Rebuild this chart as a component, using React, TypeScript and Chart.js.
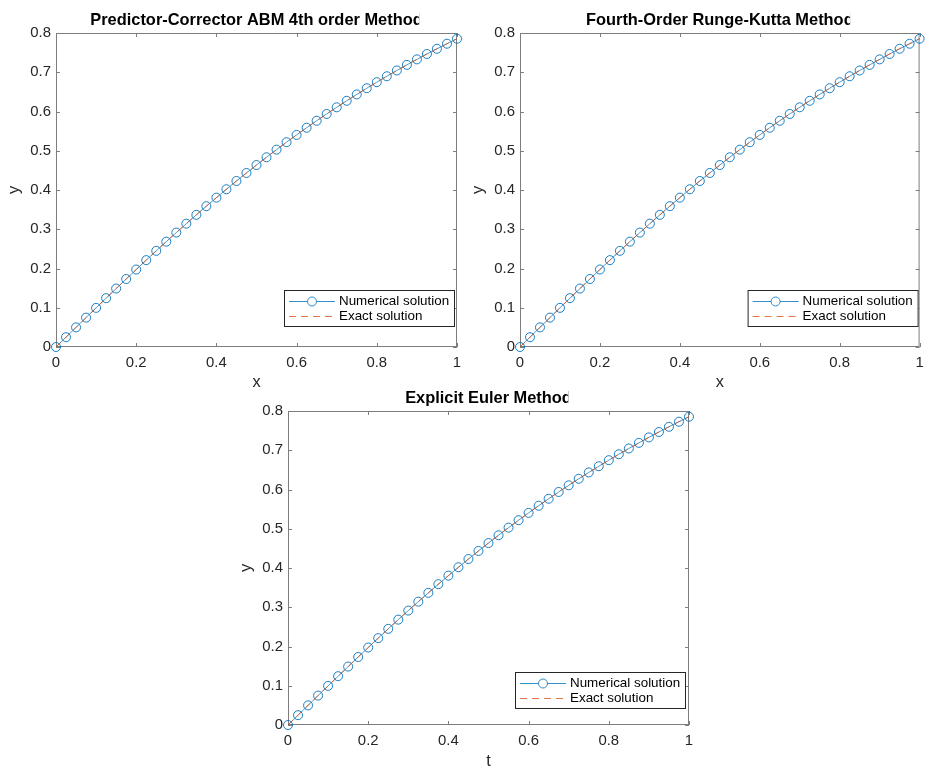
import React, { useEffect, useRef } from "react";
import { Chart, registerables } from "chart.js";

Chart.register(...registerables);

// ---------------- data ----------------
const xValues = [
  0, 0.025, 0.05, 0.075, 0.1, 0.125, 0.15, 0.175, 0.2, 0.225, 0.25, 0.275, 0.3, 0.325,
  0.35, 0.375, 0.4, 0.425, 0.45, 0.475, 0.5, 0.525, 0.55, 0.575, 0.6, 0.625, 0.65,
  0.675, 0.7, 0.725, 0.75, 0.775, 0.8, 0.825, 0.85, 0.875, 0.9, 0.925, 0.95, 0.975, 1,
];

const numericalY = [
  0, 0.025, 0.05, 0.0749, 0.0997, 0.1244, 0.1489, 0.1732, 0.1974, 0.2213, 0.245, 0.2684,
  0.2915, 0.3142, 0.3367, 0.3588, 0.3805, 0.4019, 0.4229, 0.4434, 0.4636, 0.4834, 0.5028,
  0.5218, 0.5404, 0.5586, 0.5764, 0.5937, 0.6107, 0.6273, 0.6435, 0.6593, 0.6747, 0.6898,
  0.7045, 0.7188, 0.7328, 0.7465, 0.7598, 0.7727, 0.7854,
];

const exactY = [
  0, 0.025, 0.05, 0.0749, 0.0997, 0.1244, 0.1489, 0.1732, 0.1974, 0.2213, 0.245, 0.2684,
  0.2915, 0.3142, 0.3367, 0.3588, 0.3805, 0.4019, 0.4229, 0.4434, 0.4636, 0.4834, 0.5028,
  0.5218, 0.5404, 0.5586, 0.5764, 0.5937, 0.6107, 0.6273, 0.6435, 0.6593, 0.6747, 0.6898,
  0.7045, 0.7188, 0.7328, 0.7465, 0.7598, 0.7727, 0.7854,
];

const xTicks = [0, 0.2, 0.4, 0.6, 0.8, 1];
const xTickLabels = ["0", "0.2", "0.4", "0.6", "0.8", "1"];
const yTicks = [0, 0.1, 0.2, 0.3, 0.4, 0.5, 0.6, 0.7, 0.8];
const yTickLabels = ["0", "0.1", "0.2", "0.3", "0.4", "0.5", "0.6", "0.7", "0.8"];

const titles = [
  "Predictor-Corrector ABM 4th order Method",
  "Fourth-Order Runge-Kutta Method",
  "Explicit Euler Method",
];
const xLabels = ["x", "x", "t"];
const yLabels = ["y", "y", "y"];
const legendLabels = ["Numerical solution", "Exact solution"];

// ---------------- layout / style ----------------
const W = 925;
const H = 767;
const FONT = "'Liberation Sans', Arial, Helvetica, sans-serif";
const BLUE = "#0072BD";
const ORANGE = "#D95319";
const AXIS = "#7d7d7d";
const TEXT = "#262626";

type Panel = {
  left: number;
  top: number;
  right: number;
  bottom: number;
  xAxisH: number;
  xTitlePad: number;
  legendRight: number;
  legendBottom: number;
};

const panels: Panel[] = [
  { left: 56, top: 33, right: 457, bottom: 347, xAxisH: 45, xTitlePad: 0, legendRight: 2, legendBottom: 20 },
  { left: 520, top: 33, right: 921, bottom: 347, xAxisH: 45, xTitlePad: 0, legendRight: 1, legendBottom: 20 },
  { left: 288, top: 411, right: 689, bottom: 725, xAxisH: 42, xTitlePad: -4, legendRight: 3, legendBottom: 16 },
];

const Y_AXIS_W = 56;

function makePlugin(idx: number) {
  const p = panels[idx];
  return {
    id: "matlabPanel" + idx,
    beforeDatasetsDraw(chart: any) {
      const { ctx, chartArea: a, scales } = chart;
      ctx.save();
      ctx.strokeStyle = AXIS;
      ctx.lineWidth = 1;
      ctx.strokeRect(a.left + 0.5, a.top + 0.5, a.right - a.left - 1, a.bottom - a.top - 1);
      const tl = 4;
      ctx.beginPath();
      xTicks.forEach((v) => {
        const px = Math.round(scales.x.getPixelForValue(v)) + 0.5;
        ctx.moveTo(px, a.bottom);
        ctx.lineTo(px, a.bottom - tl);
        ctx.moveTo(px, a.top);
        ctx.lineTo(px, a.top + tl);
      });
      yTicks.forEach((v) => {
        const py = Math.round(scales.y.getPixelForValue(v)) + 0.5;
        ctx.moveTo(a.left, py);
        ctx.lineTo(a.left + tl, py);
        ctx.moveTo(a.right, py);
        ctx.lineTo(a.right - tl, py);
      });
      ctx.stroke();
      ctx.restore();
    },
    afterDraw(chart: any) {
      const { ctx, chartArea: a } = chart;
      // title (clipped like the reference)
      ctx.save();
      ctx.font = `bold 16.4px ${FONT}`;
      ctx.fillStyle = "#000";
      ctx.textAlign = "center";
      ctx.textBaseline = "middle";
      const cx = (a.left + a.right) / 2;
      const tw = ctx.measureText(titles[idx]).width;
      ctx.beginPath();
      ctx.rect(0, a.top - 40, cx + tw / 2 - 3.5, 40);
      ctx.clip();
      ctx.fillText(titles[idx], cx, a.top - 12.5);
      ctx.restore();

      // legend
      const bw = 171;
      const bh = 37;
      const bx = a.right - p.legendRight - bw;
      const by = a.bottom - p.legendBottom - bh;
      ctx.save();
      ctx.fillStyle = "#fff";
      ctx.fillRect(bx, by, bw, bh);
      ctx.strokeStyle = TEXT;
      ctx.lineWidth = 1;
      ctx.strokeRect(bx + 0.5, by + 0.5, bw - 1, bh - 1);
      const r1 = by + 11.5;
      const r2 = by + 26.5;
      ctx.lineWidth = 0.8;
      // row 1
      ctx.strokeStyle = BLUE;
      ctx.beginPath();
      ctx.moveTo(bx + 5, r1);
      ctx.lineTo(bx + 51, r1);
      ctx.stroke();
      ctx.beginPath();
      ctx.arc(bx + 28, r1, 4.5, 0, Math.PI * 2);
      ctx.fillStyle = "#fff";
      ctx.fill();
      ctx.stroke();
      // row 2
      ctx.strokeStyle = ORANGE;
      ctx.setLineDash([7, 5]);
      ctx.beginPath();
      ctx.moveTo(bx + 5, r2);
      ctx.lineTo(bx + 51, r2);
      ctx.stroke();
      ctx.setLineDash([]);
      ctx.fillStyle = "#000";
      ctx.font = `13.4px ${FONT}`;
      ctx.textAlign = "left";
      ctx.textBaseline = "middle";
      ctx.fillText(legendLabels[0], bx + 55, r1);
      ctx.fillText(legendLabels[1], bx + 55, r2);
      ctx.restore();
    },
  };
}

function PanelChart({ idx }: { idx: number }) {
  const ref = useRef<HTMLCanvasElement | null>(null);
  useEffect(() => {
    if (!ref.current) return;
    const p = panels[idx];
    const chart = new Chart(ref.current, {
      type: "line",
      data: {
        datasets: [
          {
            label: legendLabels[1],
            data: xValues.map((x, i) => ({ x, y: exactY[i] })),
            borderColor: ORANGE,
            borderWidth: 0.8,
            borderDash: [7, 5],
            pointRadius: 0,
            fill: false,
            clip: false as any,
            order: 0,
          },
          {
            label: legendLabels[0],
            data: xValues.map((x, i) => ({ x, y: numericalY[i] })),
            borderColor: BLUE,
            borderWidth: 0.7,
            pointRadius: 4.5,
            pointBorderWidth: 0.9,
            pointBorderColor: BLUE,
            pointBackgroundColor: "rgba(0,0,0,0)",
            pointStyle: "circle",
            fill: false,
            clip: false as any,
            order: 1,
          },
        ],
      },
      options: {
        responsive: false,
        animation: false,
        devicePixelRatio: 1,
        events: [],
        layout: {
          padding: {
            left: p.left - Y_AXIS_W,
            top: p.top,
            right: W - p.right,
            bottom: H - p.bottom - p.xAxisH,
          },
        },
        plugins: {
          legend: { display: false },
          title: { display: false },
          tooltip: { enabled: false },
        },
        scales: {
          x: {
            type: "linear",
            min: 0,
            max: 1,
            grid: { display: false, drawTicks: false, tickLength: 0 },
            border: { display: false },
            afterBuildTicks: (s: any) => {
              s.ticks = xTicks.map((v) => ({ value: v }));
            },
            afterFit: (s: any) => {
              s.height = p.xAxisH;
              s.paddingLeft = 0;
              s.paddingRight = 0;
            },
            ticks: {
              autoSkip: false,
              maxRotation: 0,
              padding: 7,
              color: TEXT,
              font: { family: FONT, size: 14.9 },
              callback: (v: any) => {
                const i = xTicks.findIndex((t) => Math.abs(t - Number(v)) < 1e-9);
                return i >= 0 ? xTickLabels[i] : "";
              },
            },
            title: {
              display: true,
              text: xLabels[idx],
              color: TEXT,
              font: { family: FONT, size: 16.4, lineHeight: 1.2 },
              padding: { top: 0, bottom: p.xTitlePad },
            },
          },
          y: {
            type: "linear",
            min: 0,
            max: 0.8,
            grid: { display: false, drawTicks: false, tickLength: 0 },
            border: { display: false },
            afterBuildTicks: (s: any) => {
              s.ticks = yTicks.map((v) => ({ value: v }));
            },
            afterFit: (s: any) => {
              s.width = Y_AXIS_W;
              s.paddingTop = 0;
              s.paddingBottom = 0;
            },
            ticks: {
              autoSkip: false,
              padding: 5,
              color: TEXT,
              font: { family: FONT, size: 14.9 },
              callback: (v: any) => {
                const i = yTicks.findIndex((t) => Math.abs(t - Number(v)) < 1e-9);
                return i >= 0 ? yTickLabels[i] : "";
              },
            },
            title: {
              display: true,
              text: yLabels[idx],
              color: TEXT,
              font: { family: FONT, size: 16.4, lineHeight: 1.2 },
              padding: { top: 5, bottom: 0 },
            },
          },
        },
      } as any,
      plugins: [makePlugin(idx)],
    });
    return () => chart.destroy();
  }, [idx]);
  return (
    <canvas
      ref={ref}
      width={W}
      height={H}
      style={{ position: "absolute", left: 0, top: 0, width: W, height: H }}
    />
  );
}

export default function App() {
  return (
    <div
      style={{
        position: "fixed",
        left: 0,
        top: 0,
        width: W,
        height: H,
        background: "#fff",
        overflow: "hidden",
      }}
    >
      <PanelChart idx={0} />
      <PanelChart idx={1} />
      <PanelChart idx={2} />
    </div>
  );
}
